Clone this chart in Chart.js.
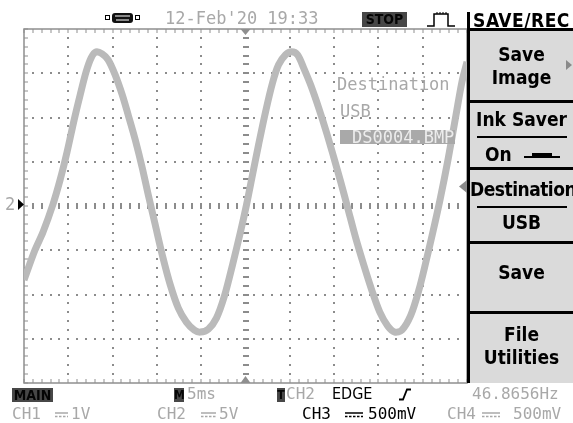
<!DOCTYPE html>
<html>
<head>
<meta charset="utf-8">
<script src="https://cdn.jsdelivr.net/npm/chart.js@4.4.0/dist/chart.umd.min.js"></script>
<style>
body { margin: 0; background: #fff; width: 573px; height: 423px; overflow: hidden; position: relative; }
canvas { position: absolute; left: 0; top: 0; }
.t { position: absolute; white-space: nowrap; line-height: 1; font-family: "DejaVu Sans Mono", monospace; font-size: 17px; z-index: 3; }
.g { color: #a8a8a8; }
.k { color: #000; }
.inv { position: absolute; background: #474747; color: #050505; font-family: "DejaVu Sans Condensed", "DejaVu Sans", sans-serif; font-stretch: condensed; font-weight: bold; font-size: 14px; line-height: 15px; text-align: center; z-index: 3; }
.box { position: absolute; left: 467px; width: 106px; box-sizing: border-box; background: #dadada; border-top: 3px solid #000; border-left: 3px solid #000; z-index: 1; }
.m { position: absolute; left: 470px; width: 103px; text-align: center; white-space: nowrap; line-height: 1; font-family: "DejaVu Sans Condensed", "DejaVu Sans", sans-serif; font-stretch: condensed; font-weight: bold; font-size: 19px; color: #000; z-index: 3; }
.rule { position: absolute; left: 477px; width: 90px; height: 2px; background: #000; z-index: 2; }
svg { position: absolute; left: 0; top: 0; z-index: 2; }
</style>
</head>
<body>
<canvas id="scope" width="573" height="423"></canvas>

<div class="box" style="top:28px;height:74px;"></div>
<div class="box" style="top:100px;height:69px;"></div>
<div class="box" style="top:167px;height:76px;"></div>
<div class="box" style="top:241px;height:72px;"></div>
<div class="box" style="top:311px;height:72px;"></div>
<div style="position:absolute;left:467px;top:12px;width:3px;height:18px;background:#000;z-index:2;"></div>
<div class="rule" style="top:136px;"></div>
<div class="rule" style="top:206px;"></div>

<svg width="573" height="423">
  <!-- connector icon -->
  <rect x="105.5" y="15.5" width="4" height="4" fill="none" stroke="#000"/>
  <rect x="112" y="13" width="21" height="10" rx="3" fill="#111"/>
  <rect x="115" y="15" width="15" height="2" fill="#888"/>
  <rect x="116" y="19" width="13" height="2" fill="#888"/>
  <rect x="135.5" y="15.5" width="4" height="4" fill="none" stroke="#000"/>
  <!-- trigger pulse -->
  <polyline points="427,26 434,26 434,14 448,14 448,26 455,26" fill="none" stroke="#000" stroke-width="1.5"/>
  <path d="M437 12v2M440 12v2M443 12v2M446 12v2" stroke="#000" stroke-width="1"/>
  <!-- channel marker -->
  <polygon points="18,199 18,210 24,204.5" fill="#000"/>
  <!-- menu arrows -->
  <polygon points="566,60 566,70 572,65" fill="#8a8a8a"/>
  <polygon points="467,180 467,193 459,186.5" fill="#8a8a8a"/>
  <!-- ink saver symbol -->
  <rect x="524" y="156" width="36" height="2" fill="#000"/>
  <rect x="532" y="153" width="20" height="5" fill="#000"/>
  <!-- slope symbol -->
  <polyline points="399,399.5 403,399.5 407,389.5 411,389.5" fill="none" stroke="#000" stroke-width="1.8"/>
  <!-- DC coupling symbols -->
  <g stroke="#a8a8a8" stroke-width="1.5">
    <path d="M55 413h13"/><path d="M55 416.5h13" stroke-dasharray="2.5 1.5"/>
    <path d="M201 413h15"/><path d="M201 416.5h15" stroke-dasharray="2.5 1.5"/>
    <path d="M482 413h18"/><path d="M482 416.5h18" stroke-dasharray="2.5 1.5"/>
  </g>
  <g stroke="#000" stroke-width="1.5">
    <path d="M345 413h18"/><path d="M345 416.5h18" stroke-dasharray="2.5 1.5"/>
  </g>
</svg>

<!-- header -->
<div class="t g" style="left:165px;top:10px;">12-Feb'20 19:33</div>
<div class="inv" style="left:362px;top:12px;width:45px;height:15px;">STOP</div>
<div class="m" style="left:470px;top:11px;font-size:19px;letter-spacing:0.5px;">SAVE/REC</div>

<!-- menu -->
<div class="m" style="top:45px;">Save</div>
<div class="m" style="top:68px;">Image</div>
<div class="m" style="top:110px;">Ink Saver</div>
<div class="m" style="top:145px;left:485px;width:auto;">On</div>
<div class="m" style="top:180px;letter-spacing:-0.5px;">Destination</div>
<div class="m" style="top:213px;">USB</div>
<div class="m" style="top:263px;">Save</div>
<div class="m" style="top:325px;">File</div>
<div class="m" style="top:348px;">Utilities</div>

<!-- overlay inside graticule -->
<div class="t g" style="left:5px;top:196px;">2</div>
<div class="t g" style="left:337px;top:76px;">Destination</div>
<div class="t g" style="left:340px;top:103px;">USB</div>
<div style="position:absolute;left:340px;top:130px;width:115px;height:14px;background:#a9a9a9;overflow:hidden;z-index:3;">
  <div class="t" style="left:12px;top:-1px;color:#ececec;">DS0004.BMP</div>
</div>

<!-- footer -->
<div class="inv" style="left:12px;top:388px;width:41px;height:14px;line-height:14px;">MAIN</div>
<div class="inv" style="left:174px;top:388px;width:10px;height:14px;line-height:14px;font-size:12px;">M</div>
<div class="t g" style="left:187px;top:386px;font-size:16px;">5ms</div>
<div class="inv" style="left:277px;top:388px;width:8px;height:14px;line-height:14px;font-size:12px;">T</div>
<div class="t g" style="left:286px;top:386px;font-size:16px;">CH2</div>
<div class="t k" style="left:332px;top:386px;font-family:'DejaVu Sans Condensed','DejaVu Sans',sans-serif;font-stretch:condensed;font-size:16px;">EDGE</div>
<div class="t g" style="left:472px;top:386px;font-size:16px;">46.8656Hz</div>

<div class="t g" style="left:12px;top:406px;font-size:16px;">CH1</div>
<div class="t g" style="left:71px;top:406px;font-size:16px;">1V</div>
<div class="t g" style="left:157px;top:406px;font-size:16px;">CH2</div>
<div class="t g" style="left:219px;top:406px;font-size:16px;">5V</div>
<div class="t k" style="left:302px;top:406px;font-size:16px;">CH3</div>
<div class="t k" style="left:368px;top:406px;font-size:16px;">500mV</div>
<div class="t g" style="left:447px;top:406px;font-size:16px;">CH4</div>
<div class="t g" style="left:513px;top:406px;font-size:16px;">500mV</div>

<script>
// time base 5 ms/div, CH2 at 5 V/div, trigger at centre
const xDivisions = [-25, -20, -15, -10, -5, 0, 5, 10, 15, 20, 25];
const yDivisions = [-20, -15, -10, -5, 0, 5, 10, 15, 20];

// trace (ms, V)
const timeMs = [-25.0, -23.76, -22.85, -21.72, -20.93, -20.14, -19.34, -18.66, -17.99, -17.42, -16.85,
    -16.18, -15.50, -14.71, -13.91, -13.24, -12.44, -11.65, -10.97, -10.18, -9.39, -8.48, -7.58, -6.67,
    -5.77, -5.09, -4.19, -3.28, -2.38, -1.47, -0.57, 0.11, 0.79, 1.47, 2.26, 3.05, 3.73, 4.52, 5.20,
    5.88, 6.56, 7.35, 8.26, 9.16, 9.95, 10.75, 11.54, 12.44, 13.35, 14.25, 15.16, 16.06, 16.85, 17.65,
    18.66, 19.57, 20.36, 21.15, 21.95, 22.85, 23.76, 24.43, 25.0];
const ch2Volts = [-8.37, -4.98, -2.94, 0.23, 2.94, 6.11, 9.73, 12.56, 15.16, 16.74, 17.42,
    17.19, 16.52, 14.82, 12.56, 10.29, 7.47, 4.30, 1.24, -2.15, -5.54, -8.94, -11.54, -13.12,
    -14.03, -14.25, -13.91, -12.67, -10.18, -6.67, -2.94, 0.11, 3.51, 6.90, 10.63, 13.91, 15.95, 17.08, 17.42,
    17.08, 15.61, 13.69, 11.09, 8.26, 5.54, 2.71, -0.23, -3.62, -6.67, -9.50, -11.99, -13.57, -14.25, -14.03,
    -12.33, -9.50, -6.33, -2.94, 0.68, 5.20, 10.29, 14.03, 16.29];

const minorSteps = 5;

const graticule = {
    id: 'graticule',
    beforeDatasetsDraw(chart) {
        const { ctx, chartArea: a, scales: { x, y } } = chart;
        const xs = [], ys = [];
        for (let i = 0; i < xDivisions.length - 1; i++) {
            const step = (xDivisions[i + 1] - xDivisions[i]) / minorSteps;
            for (let j = 0; j < minorSteps; j++) xs.push(x.getPixelForValue(xDivisions[i] + j * step));
        }
        xs.push(x.getPixelForValue(xDivisions[xDivisions.length - 1]));
        for (let i = 0; i < yDivisions.length - 1; i++) {
            const step = (yDivisions[i + 1] - yDivisions[i]) / minorSteps;
            for (let j = 0; j < minorSteps; j++) ys.push(y.getPixelForValue(yDivisions[i] + j * step));
        }
        ys.push(y.getPixelForValue(yDivisions[yDivisions.length - 1]));

        const cx = x.getPixelForValue(0);
        const cy = y.getPixelForValue(0);

        ctx.save();
        ctx.fillStyle = '#8c8c8c';
        // dotted division lines
        xDivisions.slice(1, -1).forEach(v => {
            const px = Math.round(x.getPixelForValue(v));
            ys.slice(1, -1).forEach(py => ctx.fillRect(px - 1, Math.round(py) - 1, 2, 2));
        });
        yDivisions.slice(1, -1).forEach(v => {
            const py = Math.round(y.getPixelForValue(v));
            xs.slice(1, -1).forEach(px => ctx.fillRect(Math.round(px) - 1, py - 1, 2, 2));
        });
        // centre axes with cross marks
        ys.slice(1, -1).forEach(py => ctx.fillRect(Math.round(cx) - 3, Math.round(py) - 1, 6, 2));
        xs.slice(1, -1).forEach(px => ctx.fillRect(Math.round(px) - 1, Math.round(cy) - 3, 2, 6));

        // frame
        ctx.strokeStyle = '#8f8f8f';
        ctx.lineWidth = 1.5;
        ctx.strokeRect(a.left, a.top, a.right - a.left, a.bottom - a.top);
        ctx.fillStyle = '#8f8f8f';
        xs.forEach(px => {
            ctx.fillRect(Math.round(px) - 0.5, a.top, 1, 4);
            ctx.fillRect(Math.round(px) - 0.5, a.bottom - 4, 1, 4);
        });
        ys.forEach(py => {
            ctx.fillRect(a.left, Math.round(py) - 0.5, 4, 1);
        });
        // trigger position markers
        ctx.beginPath();
        ctx.moveTo(cx - 5, a.top); ctx.lineTo(cx + 5, a.top); ctx.lineTo(cx, a.top + 6); ctx.closePath();
        ctx.moveTo(cx - 5, a.bottom); ctx.lineTo(cx + 5, a.bottom); ctx.lineTo(cx, a.bottom - 7); ctx.closePath();
        ctx.fill();
        ctx.restore();
    }
};

const ctx = document.getElementById('scope').getContext('2d');
const scopeChart = new Chart(ctx, {
    type: 'line',
    data: {
        datasets: [{
            label: 'CH2',
            data: timeMs.map((t, i) => ({ x: t, y: ch2Volts[i] })),
            borderColor: '#bababa',
            borderWidth: 7,
            pointRadius: 0,
            tension: 0.3,
            fill: false
        }]
    },
    options: {
        responsive: false,
        animation: false,
        devicePixelRatio: 1,
        layout: { padding: { left: 24, top: 29, right: 106, bottom: 40 } },
        plugins: { legend: { display: false }, tooltip: { enabled: false } },
        scales: {
            x: { type: 'linear', min: -25, max: 25, display: false },
            y: { type: 'linear', min: -20, max: 20, display: false }
        }
    },
    plugins: [graticule]
});
</script>
</body>
</html>
